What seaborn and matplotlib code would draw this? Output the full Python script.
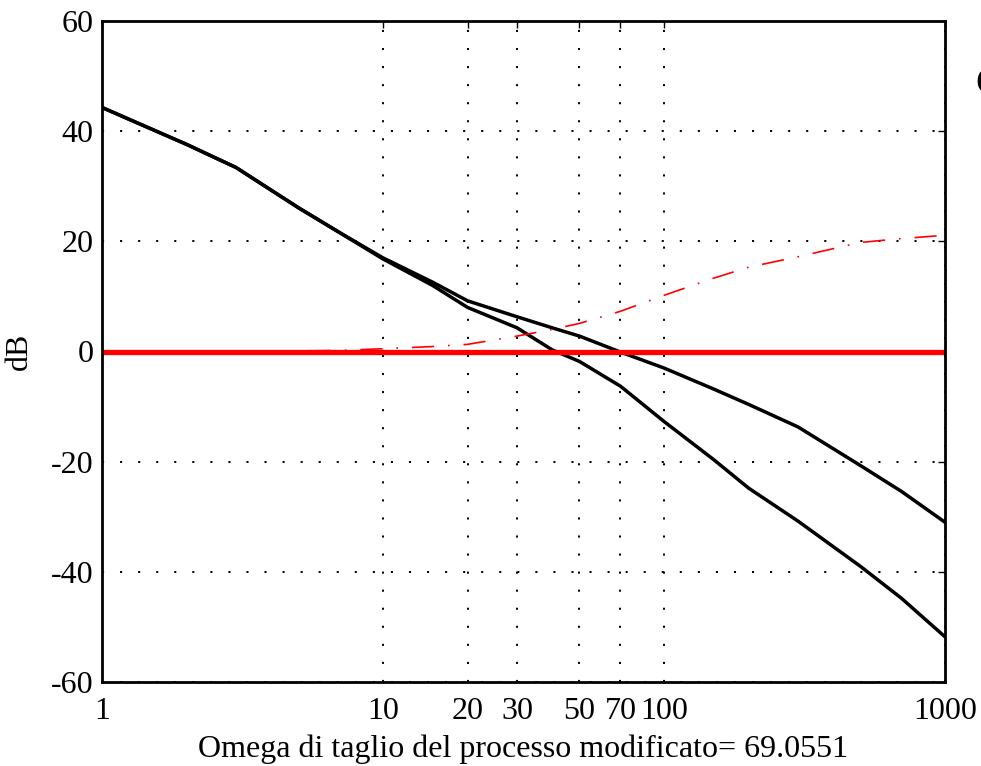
import matplotlib
matplotlib.use("Agg")
import matplotlib.pyplot as plt
import seaborn as sns
import pandas as pd

# ---- data ----
omega = [1, 2, 3, 5, 7, 10, 15, 20, 30, 40, 50, 70, 100, 150, 200, 300, 500, 700, 1000]
mag_compensated = [44.3, 37.6, 33.4, 26.1, 21.6, 17.0, 12.6, 9.2, 6.3, 4.3, 2.8, -0.1, -3.0,
                   -6.8, -9.6, -13.7, -20.7, -25.4, -31.0]
mag_process = [44.3, 37.6, 33.4, 26.1, 21.6, 16.8, 12.0, 8.0, 4.3, 0.3, -1.8, -6.3, -12.7,
               -19.6, -24.8, -30.8, -39.0, -44.8, -51.8]
mag_network = [0.1, 0.1, 0.1, 0.1, 0.2, 0.5, 0.9, 1.3, 2.8, 4.0, 5.1, 7.3, 10.2,
               13.3, 15.3, 17.2, 19.8, 20.5, 21.1]
zero_x = [1, 1000]
zero_y = [0, 0]

xticks = [1, 10, 20, 30, 50, 70, 100, 1000]
xtick_labels = ["1", "10", "20", "30", "50", "70", "100", "1000"]
yticks = [-60, -40, -20, 0, 20, 40, 60]
ytick_labels = ["-60", "-40", "-20", "0", "20", "40", "60"]
xlabel = "Omega di taglio del processo modificato= 69.0551"
ylabel = "dB"

# ---- style ----
sns.set_style("white")
plt.rcParams["font.family"] = ["Liberation Serif", "DejaVu Serif"]
plt.rcParams["lines.scale_dashes"] = False
plt.rcParams["text.color"] = "black"
plt.rcParams["axes.labelcolor"] = "black"

df_a = pd.DataFrame({"omega": omega, "dB": mag_compensated})
df_b = pd.DataFrame({"omega": omega, "dB": mag_process})
df_r = pd.DataFrame({"omega": omega, "dB": mag_network})
df_z = pd.DataFrame({"omega": zero_x, "dB": zero_y})

fig = plt.figure(figsize=(9.81, 7.66), dpi=100)
ax = fig.add_axes([102 / 981, 1 - 682 / 766, (945 - 102) / 981, (682 - 21) / 766])

ax.set_xscale("log")

sns.lineplot(data=df_a, x="omega", y="dB", ax=ax, color="black", linewidth=2.5,
             estimator=None, sort=False)
sns.lineplot(data=df_b, x="omega", y="dB", ax=ax, color="black", linewidth=2.5,
             estimator=None, sort=False)
lr = sns.lineplot(data=df_r, x="omega", y="dB", ax=ax, color="red", linewidth=1.2,
                  estimator=None, sort=False).lines[-1]
lr.set_dashes((16, 10, 1.2, 10))
sns.lineplot(data=df_z, x="omega", y="dB", ax=ax, color="red", linewidth=3.8,
             estimator=None, sort=False)

ax.set_xlim(1, 1000)
ax.set_ylim(-60, 60)
ax.set_xticks(xticks)
ax.set_xticklabels(xtick_labels)
ax.xaxis.set_minor_locator(matplotlib.ticker.NullLocator())
ax.set_yticks(yticks)
ax.set_yticklabels(ytick_labels)

ax.grid(True, which="major", color="black", linestyle=(0, (1.5, 11.5)), linewidth=1.4)
ax.tick_params(direction="in", top=True, right=True, length=5, width=1.0,
               labelsize=23, colors="black", labelcolor="black")
ax.tick_params(axis="x", pad=11)
ax.tick_params(axis="y", pad=6)
for s in ax.spines.values():
    s.set_linewidth(2.0)
    s.set_color("black")

ax.set_xlabel(xlabel, fontsize=23, labelpad=6, color="black")
ax.set_ylabel(ylabel, fontsize=23, labelpad=12, color="black")

fig.text(975 / 981, 1 - 85 / 766, "C", fontsize=28, ha="left", va="center", color="black")

fig.savefig("out.png", dpi=100)
